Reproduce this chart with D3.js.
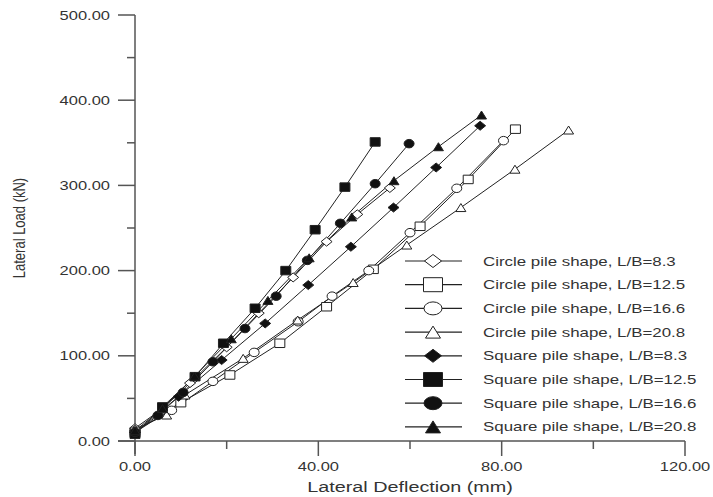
<!DOCTYPE html>
<html>
<head>
<meta charset="utf-8">
<script src="https://cdn.jsdelivr.net/npm/d3@7"></script>
<style>
  html, body { margin: 0; padding: 0; background: #fff; }
  svg { display: block; }
  text { font-family: "Liberation Sans", Arial, sans-serif; fill: #333; }
</style>
</head>
<body>
<svg id="chart" width="713" height="497"></svg>
<script>
// Lateral load vs. lateral deflection, [deflection (mm), load (kN)]
const circle83  = [[0,15],[6,38],[12,68],[20,110],[27,150],[34.5,192],[41.8,234],[48.5,266],[55.6,297]];
const circle125 = [[0,10],[10,45],[20.7,77.5],[31.6,114.7],[41.8,157.6],[52,201.5],[62.2,252],[72.7,307],[83,366]];
const circle166 = [[0,12],[8,36],[17,70],[26,104],[35.6,140],[43,170],[51,200],[60,244.5],[70.2,296.6],[80.4,352.5]];
const circle208 = [[0,14],[6.9,30.5],[10.9,54],[23.6,97],[35.5,142],[47.6,186],[59.3,230],[71.1,274],[82.9,319],[94.6,365]];
const square83  = [[0,10],[9.5,52],[18.9,95],[28.4,138],[37.8,183],[47.1,228],[56.4,274],[65.7,321],[75.3,370]];
const square125 = [[0,8],[6,40],[13.1,75.5],[19.3,114.7],[26.2,155.8],[32.9,200],[39.3,248],[45.8,298],[52.4,351]];
const square166 = [[0,10],[5,30],[10.5,57],[17,93],[24,132],[30.8,170],[37.6,212],[44.8,255.5],[52.4,302],[59.8,349]];
const square208 = [[0,12],[6,38],[13,76],[21,120],[29,165],[38,215],[47.3,263],[56.5,305.5],[66.2,345.4],[75.6,382.6]];

const seriesNames = [
  "Circle pile shape, L/B=8.3",
  "Circle pile shape, L/B=12.5",
  "Circle pile shape, L/B=16.6",
  "Circle pile shape, L/B=20.8",
  "Square pile shape, L/B=8.3",
  "Square pile shape, L/B=12.5",
  "Square pile shape, L/B=16.6",
  "Square pile shape, L/B=20.8"
];
const seriesData = [circle83, circle125, circle166, circle208, square83, square125, square166, square208];
const seriesShapes = ["diamond", "square", "circle", "triangle", "diamond", "square", "circle", "triangle"];
const seriesFilled = [false, false, false, false, true, true, true, true];

const xTicks = [0, 40, 80, 120];
const xMinorTicks = [20, 60, 100];
const yTicks = [0, 100, 200, 300, 400, 500];
const yMinorTicks = [50, 150, 250, 350, 450];

const xTitle = "Lateral Deflection (mm)";
const yTitle = "Lateral Load (kN)";

const svg = d3.select("#chart");
const x = d3.scaleLinear().domain([0, 120]).range([135, 685]);
const y = d3.scaleLinear().domain([0, 500]).range([441, 15]);
const SX = 1.32; // horizontal stretch of lettering

function shapePath(kind, w, h) {
  const a = w / 2, b = h / 2;
  switch (kind) {
    case "diamond": return `M0,${-b}L${a},0L0,${b}L${-a},0Z`;
    case "square": return `M${-a},${-b}H${a}V${b}H${-a}Z`;
    case "circle": return `M${-a},0A${a},${b} 0 1,0 ${a},0A${a},${b} 0 1,0 ${-a},0Z`;
    case "triangle": return `M0,${-b}L${a},${b}L${-a},${b}Z`;
  }
}
const markerSize = {
  diamond: [11, 9], square: [10, 8.5], circle: [10, 8.5], triangle: [10, 8]
};
const legendSize = {
  diamond: [17, 13], square: [19, 14], circle: [18, 13], triangle: [15, 12]
};

function stretchedText(g, str, px, py, anchor, size) {
  return g.append("text")
    .attr("transform", `translate(${px},${py}) scale(${SX},1)`)
    .attr("text-anchor", anchor)
    .attr("font-size", size)
    .text(str);
}

// axes
const axisColor = "#555";
const ax = svg.append("g");
ax.append("line").attr("x1", 118).attr("x2", x(120)).attr("y1", y(0)).attr("y2", y(0))
  .attr("stroke", axisColor).attr("stroke-width", 1.5);
ax.append("line").attr("x1", x(0)).attr("x2", x(0)).attr("y1", y(500)).attr("y2", 454)
  .attr("stroke", axisColor).attr("stroke-width", 1.5);

xTicks.forEach(t => {
  ax.append("line").attr("x1", x(t)).attr("x2", x(t)).attr("y1", y(0)).attr("y2", y(0) + 15)
    .attr("stroke", axisColor).attr("stroke-width", 1.5);
  stretchedText(ax, t.toFixed(2), x(t), 471, "middle", 12.5);
});
xMinorTicks.forEach(t => {
  ax.append("line").attr("x1", x(t)).attr("x2", x(t)).attr("y1", y(0)).attr("y2", y(0) + 8)
    .attr("stroke", axisColor).attr("stroke-width", 1.5);
});
yTicks.forEach(t => {
  ax.append("line").attr("x1", x(0) - 17).attr("x2", x(0)).attr("y1", y(t)).attr("y2", y(t))
    .attr("stroke", axisColor).attr("stroke-width", 1.5);
  stretchedText(ax, t.toFixed(2), 110, y(t) + 4.5, "end", 12.5);
});
yMinorTicks.forEach(t => {
  ax.append("line").attr("x1", x(0) - 8).attr("x2", x(0)).attr("y1", y(t)).attr("y2", y(t))
    .attr("stroke", axisColor).attr("stroke-width", 1.5);
});

stretchedText(svg, xTitle, 410, 492, "middle", 15);
svg.append("text")
  .attr("transform", `translate(25,228) rotate(-90) scale(1,${SX})`)
  .attr("text-anchor", "middle")
  .attr("font-size", 13)
  .text(yTitle);

// series lines and markers
const line = d3.line().x(d => x(d[0])).y(d => y(d[1]));
const plot = svg.append("g");
seriesData.forEach((data, i) => {
  plot.append("path").attr("d", line(data))
    .attr("fill", "none").attr("stroke", "#222").attr("stroke-width", 1);
});
seriesData.forEach((data, i) => {
  const kind = seriesShapes[i];
  const [w, h] = markerSize[kind];
  plot.selectAll(null).data(data).enter().append("path")
    .attr("transform", d => `translate(${x(d[0])},${y(d[1])})`)
    .attr("d", shapePath(kind, w, h))
    .attr("fill", seriesFilled[i] ? "#111" : "#fff")
    .attr("stroke", "#222").attr("stroke-width", 1);
});

// legend
const lg = svg.append("g");
seriesNames.forEach((name, i) => {
  const cy = 261 + i * 23.7;
  lg.append("line").attr("x1", 405).attr("x2", 462).attr("y1", cy).attr("y2", cy)
    .attr("stroke", "#222").attr("stroke-width", 1.2);
  const kind = seriesShapes[i];
  const [w, h] = legendSize[kind];
  lg.append("path").attr("transform", `translate(433,${cy})`)
    .attr("d", shapePath(kind, w, h))
    .attr("fill", seriesFilled[i] ? "#111" : "#fff")
    .attr("stroke", "#222").attr("stroke-width", 1);
  stretchedText(lg, name, 483, cy + 4.5, "start", 12.8);
});
</script>
</body>
</html>
